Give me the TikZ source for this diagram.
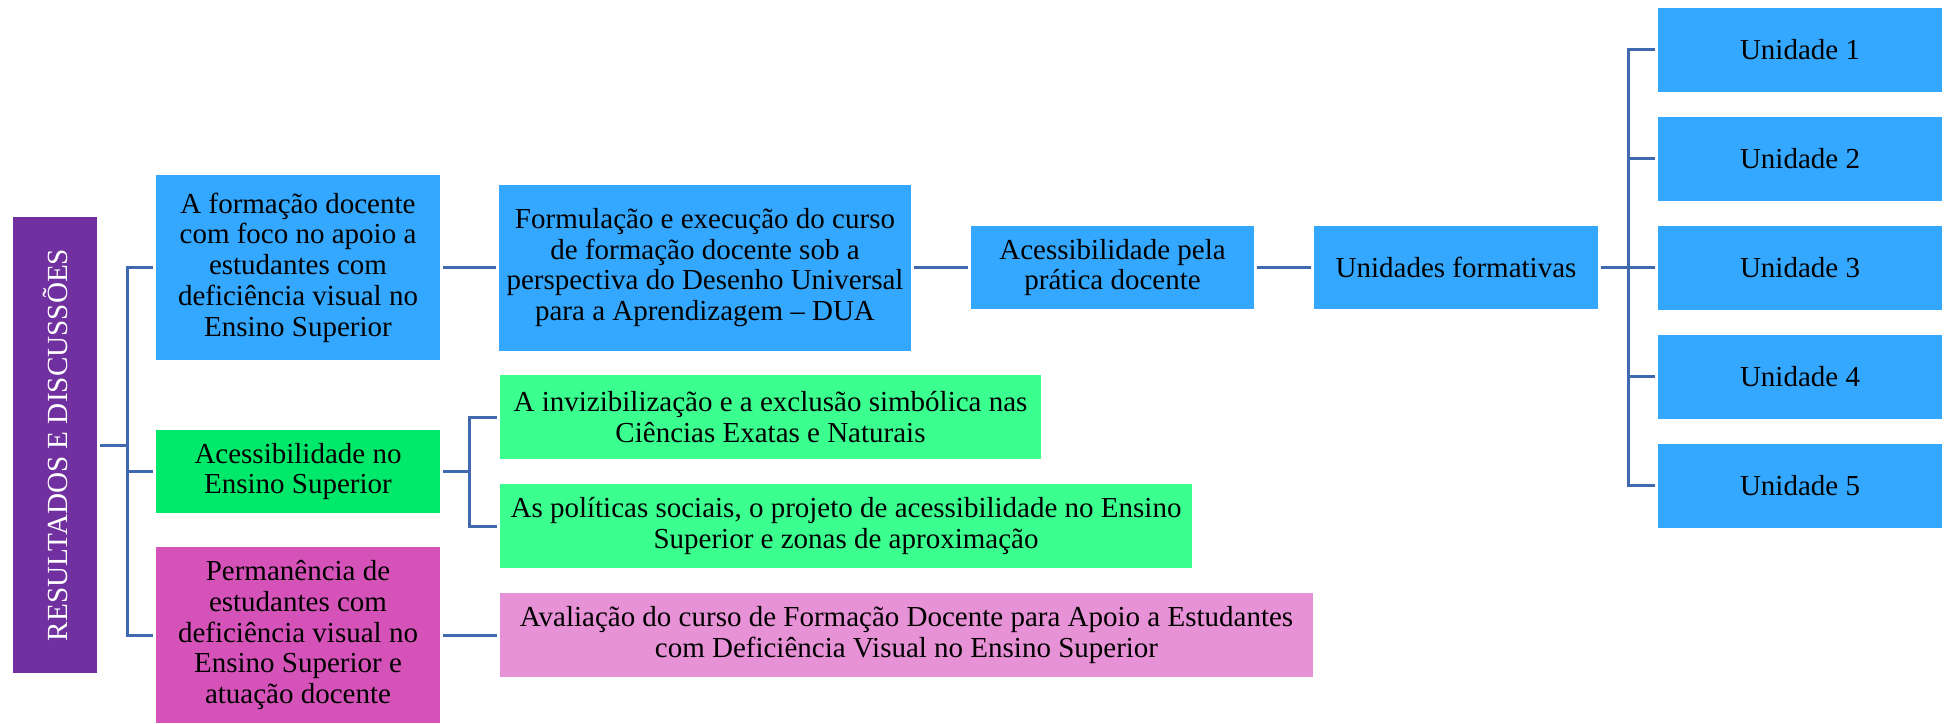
\documentclass[tikz,border=0pt]{standalone}
\usepackage{fontspec}
\setmainfont{Liberation Serif}
\newcommand\boxfont{\fontsize{14.5pt}{15.4pt}\selectfont}
\definecolor{cpurple}{HTML}{7030A0}
\definecolor{cblue}{HTML}{34A7FF}
\definecolor{cgreenA}{HTML}{00E96B}
\definecolor{cgreenB}{HTML}{3BFF8F}
\definecolor{cmag}{HTML}{D553B9}
\definecolor{cpink}{HTML}{E792D6}
\definecolor{cline}{HTML}{4169AF}
\tikzset{
  box/.style={rectangle, inner sep=0pt, align=center, font=\boxfont, text=black},
  conn/.style={draw=cline, line width=1.5pt, shorten <=1.5pt, shorten >=1.5pt},
}
\begin{document}
\begin{tikzpicture}[x=0.5pt,y=-0.5pt]
\useasboundingbox (0,0) rectangle (1946,723);
% root
\node[box, fill=cpurple, minimum width=42pt, minimum height=228pt] (root) at (55,445) {};
\node[rotate=90, text=white, font=\fontsize{14.6pt}{16pt}\selectfont, inner sep=0pt] (roottext) at (root.center) {RESULTADOS E DISCUSSÕES};
% first level
\node[box, fill=cblue, minimum width=142pt, minimum height=92.5pt] (b1) at (298,267.5) {A formação docente\\com foco no apoio a\\estudantes com\\deficiência visual no\\Ensino Superior};
\node[box, fill=cgreenA, minimum width=142pt, minimum height=41.5pt] (g1) at (298,471.5) {Acessibilidade no\\Ensino Superior};
\node[box, fill=cmag, minimum width=142pt, minimum height=88pt] (m1) at (298,635) {Permanência de\\estudantes com\\deficiência visual no\\Ensino Superior e\\atuação docente};
% second level
\node[box, fill=cblue, minimum width=206pt, minimum height=83pt] (b2) at (705,267.5) {Formulação e execução do curso\\de formação docente sob a\\perspectiva do Desenho Universal\\para a Aprendizagem – DUA};
\node[box, fill=cgreenB, minimum width=270.5pt, minimum height=42pt] (g2) at (770.5,417) {A invizibilização e a exclusão simbólica nas\\Ciências Exatas e Naturais};
\node[box, fill=cgreenB, minimum width=346pt, minimum height=42pt] (g3) at (846,526) {As políticas sociais, o projeto de acessibilidade no Ensino\\Superior e zonas de aproximação};
\node[box, fill=cpink, minimum width=406.5pt, minimum height=42pt] (p1) at (906.5,635) {Avaliação do curso de Formação Docente para Apoio a Estudantes\\com Deficiência Visual no Ensino Superior};
% third / fourth level
\node[box, fill=cblue, minimum width=141.5pt, minimum height=41.5pt] (b3) at (1112.5,267.5) {Acessibilidade pela\\prática docente};
\node[box, fill=cblue, minimum width=142pt, minimum height=41.5pt] (b4) at (1456,267.5) {Unidades formativas};
% units
\foreach \i/\y in {1/49.5,2/158.5,3/267.5,4/376.5,5/485.5}{
  \node[box, fill=cblue, minimum width=142pt, minimum height=42pt] (u\i) at (1800,\y) {Unidade \i};
}
% connectors
\coordinate (t0) at (127,445);
\draw[conn] (root.east) -- (t0) |- (b1.west);
\draw[conn] (root.east) -- (t0) |- (g1.west);
\draw[conn] (root.east) -- (t0) |- (m1.west);
\draw[conn] (b1.east) -- (b1.east -| b2.west);
\draw[conn] (b2.east) -- (b2.east -| b3.west);
\draw[conn] (b3.east) -- (b4.west);
\coordinate (t1) at (469,471.5);
\draw[conn] (g1.east) -- (t1) |- (g2.west);
\draw[conn] (g1.east) -- (t1) |- (g3.west);
\draw[conn] (m1.east) -- (p1.west);
\coordinate (t2) at (1628,267.5);
\foreach \i in {1,...,5}{
  \draw[conn] (b4.east) -- (t2) |- (u\i.west);
}
\end{tikzpicture}
\end{document}
